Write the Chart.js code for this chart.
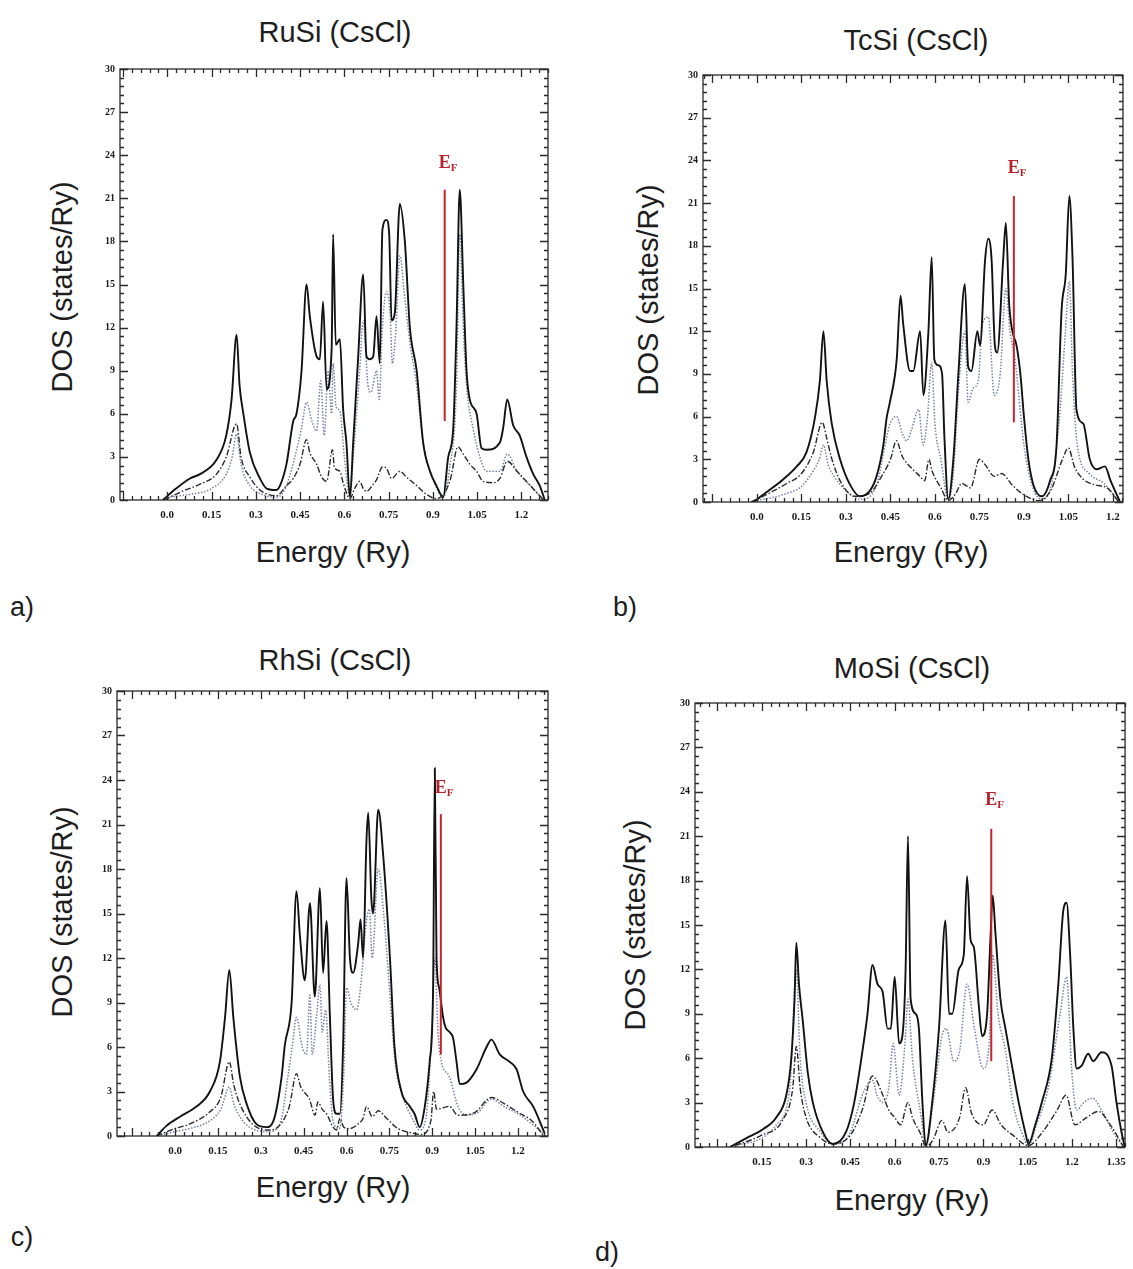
<!DOCTYPE html>
<html>
<head>
<meta charset="utf-8">
<script src="https://cdn.jsdelivr.net/npm/chart.js@4.4.0/dist/chart.umd.min.js"></script>
<style>
body{margin:0;background:#fff;width:1133px;height:1269px;position:relative;overflow:hidden;font-family:"Liberation Sans",Arial,sans-serif;color:#1e1e1e}
.lbl{position:absolute;font-size:29px;white-space:nowrap;transform:translate(-50%,-50%)}
.ylbl{transform:translate(-50%,-50%) rotate(-90deg)}
.letter{position:absolute;font-size:27px;transform:translate(-50%,-50%)}
canvas{position:absolute}
</style>
</head>
<body>
<script>
// tick labels
const xTicks   = [0,0.15,0.3,0.45,0.6,0.75,0.9,1.05,1.2];
const xTicksMo = [0.15,0.3,0.45,0.6,0.75,0.9,1.05,1.2,1.35];
const yTicks   = [0,3,6,9,12,15,18,21,24,27,30];

// a) RuSi : [energy, DOS]
const ruTotal = [[-0.015,0],[0.03,0.8],[0.077,1.5],[0.111,1.8],[0.167,2.8],[0.2,4.5],[0.218,7],[0.235,11.5],[0.245,8],[0.258,6],[0.28,3.3],[0.314,1.5],[0.337,0.8],[0.37,0.7],[0.382,1],[0.404,2.5],[0.427,5.5],[0.438,6],[0.455,9],[0.472,15],[0.483,12.8],[0.506,10],[0.517,9.8],[0.528,13.8],[0.54,7.7],[0.557,10.5],[0.562,18.5],[0.571,10.8],[0.585,11.2],[0.596,6.3],[0.607,4],[0.619,0.2],[0.63,4],[0.647,10],[0.664,15.7],[0.675,10],[0.686,9.8],[0.698,10],[0.709,12.8],[0.72,9.5],[0.729,18.8],[0.743,19.5],[0.752,18.5],[0.76,12.5],[0.771,13],[0.788,20.6],[0.805,18],[0.822,12],[0.845,9],[0.867,4],[0.89,2],[0.912,1],[0.935,0.2],[0.952,3],[0.969,5],[0.98,12],[0.991,21.6],[1.003,15],[1.014,9],[1.025,7],[1.048,6],[1.065,3.6],[1.082,3.5],[1.127,4],[1.138,5],[1.152,7],[1.172,5.2],[1.194,4.5],[1.217,3],[1.24,1.8],[1.262,1],[1.279,0]];
const ruD = [[0,0.2],[0.08,0.4],[0.15,0.8],[0.2,1.8],[0.22,3],[0.235,4.6],[0.25,2.5],[0.28,1],[0.32,0.4],[0.37,0.2],[0.4,0.8],[0.43,2.8],[0.455,5],[0.472,6.8],[0.49,5.5],[0.506,4.8],[0.52,8.3],[0.532,4.5],[0.545,9],[0.557,6],[0.562,9.5],[0.572,6.5],[0.585,6.2],[0.6,3],[0.619,0.2],[0.63,3],[0.652,9],[0.664,12.5],[0.68,8],[0.69,7.5],[0.709,9],[0.718,7],[0.729,12],[0.743,14.5],[0.755,13],[0.763,9.5],[0.775,12],[0.788,17],[0.805,14],[0.822,11],[0.845,8],[0.867,4],[0.9,1.5],[0.935,0.2],[0.955,2],[0.98,8],[0.991,18.5],[1.003,12],[1.014,8],[1.036,5],[1.059,3],[1.082,2],[1.127,2],[1.152,3.2],[1.185,2],[1.23,1],[1.275,0]];
const ruOther = [[-0.01,0],[0.05,0.6],[0.111,1.1],[0.167,1.8],[0.2,3],[0.235,5.3],[0.25,3],[0.28,1.6],[0.314,0.7],[0.37,0.3],[0.404,1],[0.427,1.5],[0.45,2.5],[0.472,4.2],[0.483,3.3],[0.506,2.5],[0.523,1.6],[0.54,1.3],[0.56,3.5],[0.566,2.3],[0.585,2],[0.596,1.2],[0.619,0.1],[0.635,0.8],[0.652,1.3],[0.664,0.8],[0.675,0.6],[0.698,1.1],[0.709,1.4],[0.729,2.3],[0.743,2.2],[0.76,1.5],[0.788,2],[0.81,1.6],[0.845,1],[0.878,0.4],[0.912,0.1],[0.94,0.5],[0.96,1.5],[0.985,3.7],[1.003,3.2],[1.025,2.5],[1.048,2],[1.07,1.3],[1.104,1.2],[1.127,1.5],[1.152,2.7],[1.185,2],[1.23,1],[1.275,0]];
const ruEF = [0.94, 5.5, 21.6];

// b) TcSi
const tcTotal = [[-0.012,0],[0.033,0.7],[0.089,1.6],[0.134,2.5],[0.167,3.5],[0.196,6],[0.212,8.5],[0.224,12],[0.235,8.5],[0.252,5.5],[0.28,3],[0.314,1.2],[0.347,0.4],[0.381,0.8],[0.403,1.8],[0.426,4],[0.437,5.9],[0.448,7],[0.471,10],[0.484,14.5],[0.493,12.5],[0.516,9.2],[0.527,9.2],[0.55,12],[0.561,7.5],[0.578,12],[0.589,17.2],[0.598,10],[0.612,9.6],[0.624,9],[0.632,4.5],[0.645,0.2],[0.662,3],[0.679,9],[0.701,15.3],[0.712,9.5],[0.723,9.2],[0.743,12],[0.752,11],[0.769,17],[0.78,18.5],[0.791,17],[0.802,11],[0.81,10.5],[0.83,17],[0.839,19.6],[0.85,14],[0.861,12],[0.875,11],[0.888,9],[0.9,6],[0.915,3],[0.932,1.2],[0.96,0.4],[0.988,1.5],[1.01,4],[1.027,13.5],[1.041,16],[1.053,21.5],[1.064,17],[1.077,6.5],[1.1,5.5],[1.122,3],[1.145,2.3],[1.173,2.5],[1.192,1.5],[1.224,0]];
const tcD = [[-0.01,0.1],[0.05,0.3],[0.1,0.6],[0.15,1.1],[0.19,2.2],[0.21,3],[0.224,4],[0.24,2.6],[0.26,1.8],[0.3,0.8],[0.35,0.2],[0.4,1],[0.437,4.5],[0.448,5.5],[0.471,6],[0.49,4.8],[0.505,4.3],[0.52,5],[0.545,6.5],[0.56,4],[0.575,6],[0.589,9.8],[0.6,5.5],[0.62,3],[0.645,0.1],[0.662,2],[0.68,8],[0.701,12],[0.712,7],[0.729,8],[0.746,8.5],[0.76,12.5],[0.78,13],[0.8,7.5],[0.82,9],[0.839,15],[0.853,12],[0.87,10],[0.9,4],[0.93,1],[0.96,0.2],[0.99,1],[1.02,6],[1.04,12],[1.053,15.5],[1.064,9],[1.08,4],[1.12,2],[1.17,1.3],[1.22,0]];
const tcOther = [[-0.02,0],[0.03,0.5],[0.1,1.3],[0.15,2],[0.19,3.5],[0.22,5.6],[0.235,4.5],[0.25,3.2],[0.28,1.5],[0.33,0.4],[0.38,0.6],[0.42,1.8],[0.45,3],[0.47,4.3],[0.49,3.2],[0.52,2.4],[0.55,1.8],[0.565,1.5],[0.58,3],[0.59,2.2],[0.62,1],[0.645,0.1],[0.67,0.6],[0.69,1.3],[0.72,1],[0.75,3],[0.77,2.6],[0.8,1.8],[0.825,2],[0.86,1.2],[0.9,0.5],[0.95,0.1],[0.99,0.8],[1.03,3],[1.05,3.8],[1.07,2.5],[1.1,1.6],[1.14,1.2],[1.18,1],[1.22,0]];
const tcEF = [0.866, 5.6, 21.5];

// c) RhSi
const rhTotal = [[-0.064,0],[-0.029,0.7],[0.017,1.3],[0.076,2],[0.122,3],[0.157,5],[0.175,8],[0.19,11.2],[0.204,8],[0.227,4],[0.25,2.2],[0.285,0.8],[0.32,0.6],[0.344,1],[0.373,4],[0.384,6.1],[0.408,9],[0.425,16.5],[0.437,13.5],[0.454,10.5],[0.472,15.7],[0.489,9.4],[0.507,16.7],[0.518,11],[0.53,14.5],[0.542,8],[0.553,2.5],[0.565,1.5],[0.577,1.5],[0.588,6],[0.6,17.4],[0.612,12],[0.623,11],[0.641,13],[0.649,14.6],[0.658,12],[0.67,20],[0.676,21.8],[0.687,16],[0.693,15],[0.711,22],[0.728,19],[0.752,12],[0.768,6],[0.792,3],[0.821,2],[0.838,1.5],[0.856,0.6],[0.874,2],[0.891,5],[0.903,10],[0.909,24.8],[0.915,12],[0.924,10],[0.938,8],[0.947,7.3],[0.961,7],[0.973,6.6],[0.985,5],[0.996,3.5],[1.02,3.6],[1.055,4.5],[1.09,6],[1.107,6.5],[1.136,5.5],[1.171,5],[1.195,4.5],[1.218,3],[1.253,2],[1.293,0.2]];
const rhD = [[-0.06,0],[0,0.3],[0.05,0.5],[0.12,1],[0.16,1.8],[0.19,3.3],[0.205,2.2],[0.23,1.2],[0.27,0.5],[0.33,0.3],[0.37,1],[0.395,4],[0.41,6],[0.425,8],[0.445,6],[0.46,5.5],[0.472,9.5],[0.48,5.5],[0.495,8],[0.507,10.2],[0.515,7],[0.527,8.5],[0.54,4],[0.553,1],[0.575,0.5],[0.59,4],[0.6,10],[0.615,9],[0.635,8.5],[0.649,10],[0.67,14.5],[0.68,15.3],[0.69,12],[0.711,18],[0.73,15],[0.75,10],[0.77,5],[0.8,2.5],[0.83,1.2],[0.856,0.4],[0.88,1.5],[0.9,8],[0.909,12],[0.92,7],[0.932,5],[0.96,4],[0.99,2],[1.02,1.4],[1.06,1.6],[1.107,2.5],[1.15,2],[1.2,1.5],[1.25,0.8],[1.29,0.1]];
const rhOther = [[-0.065,0],[0,0.5],[0.05,0.8],[0.12,1.6],[0.16,2.6],[0.19,5],[0.205,3.5],[0.22,2.5],[0.25,1.3],[0.285,0.6],[0.33,0.4],[0.37,0.8],[0.4,2],[0.425,4.2],[0.44,3.3],[0.47,2.5],[0.49,1.4],[0.5,2.3],[0.515,1.8],[0.53,1.5],[0.553,0.6],[0.565,0.4],[0.577,1.2],[0.59,0.6],[0.61,0.5],[0.64,0.8],[0.658,1.2],[0.67,2],[0.69,1.3],[0.711,1.7],[0.74,1.2],[0.78,0.5],[0.83,0.2],[0.86,0.1],[0.895,1],[0.905,3],[0.915,1.8],[0.96,2],[0.99,1.4],[1.05,1.6],[1.107,2.6],[1.15,2.2],[1.2,1.6],[1.25,1],[1.29,0]];
const rhEF = [0.93, 5.5, 21.7];

// d) MoSi
const moTotal = [[0.042,0],[0.098,0.6],[0.154,1.2],[0.199,2],[0.233,3.5],[0.25,6],[0.261,10],[0.267,13.8],[0.276,11],[0.289,8.5],[0.306,5],[0.323,3],[0.357,1],[0.39,0.2],[0.435,1],[0.463,3],[0.491,6.5],[0.508,9],[0.525,12.3],[0.542,11],[0.559,10.5],[0.576,8],[0.587,8],[0.6,11.5],[0.615,7],[0.626,7.5],[0.637,12],[0.645,21],[0.654,10],[0.671,9],[0.682,8],[0.694,3],[0.705,0.1],[0.727,3],[0.75,8],[0.772,15.3],[0.784,9],[0.795,9],[0.817,12],[0.834,13],[0.845,18.3],[0.857,14],[0.868,13.5],[0.885,9.5],[0.896,7.5],[0.913,9],[0.924,14],[0.932,17],[0.941,14.5],[0.958,10],[0.975,8],[0.997,5.5],[1.02,3],[1.042,1],[1.053,0.2],[1.076,1.5],[1.098,3],[1.132,6],[1.154,11],[1.171,16],[1.182,16.5],[1.194,13],[1.205,8],[1.216,5.3],[1.233,5.5],[1.255,6.3],[1.272,5.8],[1.3,6.4],[1.334,5.5],[1.351,3],[1.368,1],[1.379,0]];
const moD = [[0.06,0.1],[0.15,0.6],[0.2,1.5],[0.245,4],[0.267,12],[0.28,6],[0.3,3],[0.35,1],[0.39,0.2],[0.45,1],[0.49,3.5],[0.525,4.5],[0.54,3.5],[0.56,3],[0.58,4],[0.595,7],[0.615,3.5],[0.635,7],[0.645,10],[0.66,6],[0.69,2],[0.705,0],[0.73,3],[0.76,7.5],[0.775,8],[0.8,5.8],[0.82,6.5],[0.845,11],[0.87,8],[0.9,5.3],[0.92,7],[0.932,13],[0.95,9],[0.975,6.5],[1.0,3],[1.03,1],[1.053,0.1],[1.08,1.5],[1.12,4],[1.16,9],[1.182,11.5],[1.2,5],[1.216,2.5],[1.24,3],[1.27,3.3],[1.3,2.5],[1.34,1],[1.375,0]];
const moOther = [[0.06,0.1],[0.15,0.8],[0.22,1.8],[0.255,4],[0.267,6.8],[0.28,4],[0.3,2],[0.35,0.6],[0.39,0.2],[0.45,0.8],[0.49,2.5],[0.525,4.8],[0.56,3.5],[0.58,2.5],[0.6,2],[0.62,1.5],[0.645,3],[0.66,2],[0.69,0.8],[0.705,0],[0.73,0.5],[0.76,1.8],[0.78,1],[0.82,2],[0.84,4],[0.86,2.3],[0.9,1.5],[0.93,2.5],[0.96,1.5],[1.0,0.8],[1.053,0.1],[1.1,1],[1.15,2.5],[1.18,3.5],[1.21,1.5],[1.25,2],[1.29,2.4],[1.33,1.5],[1.375,0]];
const moEF = [0.927, 5.8, 21.5];

const panels = [
  {title:'RuSi (CsCl)', letter:'a)', total:ruTotal, d:ruD, other:ruOther, ef:ruEF, xMin:-0.16, xMax:1.29, ticks:xTicks,
   frame:[120,68,548,500], titlePos:[335,32], xlPos:[333,552], ylPos:[62,287], letterPos:[22,607]},
  {title:'TcSi (CsCl)', letter:'b)', total:tcTotal, d:tcD, other:tcOther, ef:tcEF, xMin:-0.182, xMax:1.234, ticks:xTicks,
   frame:[703,74,1123,502], titlePos:[916,40], xlPos:[911,552], ylPos:[648,290], letterPos:[625,607]},
  {title:'RhSi (CsCl)', letter:'c)', total:rhTotal, d:rhD, other:rhOther, ef:rhEF, xMin:-0.203, xMax:1.305, ticks:xTicks,
   frame:[117,690,548,1136], titlePos:[335,660], xlPos:[333,1187], ylPos:[62,912], letterPos:[22,1237]},
  {title:'MoSi (CsCl)', letter:'d)', total:moTotal, d:moD, other:moOther, ef:moEF, xMin:-0.076, xMax:1.38, ticks:xTicksMo,
   frame:[695,702,1127,1147], titlePos:[912,668], xlPos:[912,1200], ylPos:[635,925], letterPos:[607,1252]}
];

const toXY = arr => arr.map(p => ({x:p[0], y:p[1]}));
const serif = "'Liberation Serif','DejaVu Serif',serif";

// frame with inward major/minor ticks on all four sides + E_F label
const frameTicks = {
  id:'frameTicks',
  afterDatasetsDraw(chart){
    const {ctx, chartArea:a, scales:{x, y}} = chart;
    ctx.save();
    ctx.strokeStyle = '#2a2a2a';
    ctx.lineWidth = 1.3;
    ctx.strokeRect(a.left, a.top, a.right - a.left, a.bottom - a.top);
    ctx.beginPath();
    for(let i = Math.ceil(x.min/0.03 - 1e-6); i*0.03 <= x.max + 1e-9; i++){
      const px = Math.round(x.getPixelForValue(i*0.03)) + 0.5;
      const len = i % 5 === 0 ? 8 : 4;
      ctx.moveTo(px, a.bottom); ctx.lineTo(px, a.bottom - len);
      ctx.moveTo(px, a.top); ctx.lineTo(px, a.top + len);
    }
    for(let i = 0; i <= 50; i++){
      const py = Math.round(y.getPixelForValue(i*0.6)) + 0.5;
      const len = i % 5 === 0 ? 8 : 4;
      ctx.moveTo(a.left, py); ctx.lineTo(a.left + len, py);
      ctx.moveTo(a.right, py); ctx.lineTo(a.right - len, py);
    }
    ctx.stroke();
    const ef = chart.options.plugins.frameTicks.ef;
    const ex = x.getPixelForValue(ef[0]) - 6;
    const ey = y.getPixelForValue(23.1);
    ctx.fillStyle = '#b8232b';
    ctx.font = 'bold 18px ' + serif;
    ctx.textBaseline = 'alphabetic';
    ctx.fillText('E', ex, ey);
    const w = ctx.measureText('E').width;
    ctx.font = 'bold 11px ' + serif;
    ctx.fillText('F', ex + w, ey + 3);
    ctx.restore();
  }
};

function addText(cls, text, pos){
  const el = document.createElement('div');
  el.className = cls;
  el.textContent = text;
  el.style.left = pos[0] + 'px';
  el.style.top = pos[1] + 'px';
  document.body.appendChild(el);
}

const padTop = 10, padRight = 8, yW = 35, xH = 26;

panels.forEach(p => {
  const [l, t, r, b] = p.frame;
  const cv = document.createElement('canvas');
  cv.width = yW + (r - l) + padRight;
  cv.height = padTop + (b - t) + xH;
  cv.style.left = (l - yW) + 'px';
  cv.style.top = (t - padTop) + 'px';
  cv.style.width = cv.width + 'px';
  cv.style.height = cv.height + 'px';
  document.body.appendChild(cv);

  addText('lbl', p.title, p.titlePos);
  addText('lbl', 'Energy (Ry)', p.xlPos);
  addText('lbl ylbl', 'DOS (states/Ry)', p.ylPos);
  addText('letter', p.letter, p.letterPos);

  new Chart(cv.getContext('2d'), {
    type:'line',
    data:{
      datasets:[
        {label:'EF', data:toXY([[p.ef[0], p.ef[1]], [p.ef[0], p.ef[2]]]), borderColor:'#c0262e', borderWidth:2, cubicInterpolationMode:'default'},
        {label:'total', data:toXY(p.total), borderColor:'#121212', borderWidth:1.9},
        {label:'other', data:toXY(p.other), borderColor:'#2a2a2a', borderWidth:1.4, borderDash:[6,2,1.5,2]},
        {label:'d', data:toXY(p.d), borderColor:'#7482a6', borderWidth:1.5, borderDash:[1.5,1.6]}
      ]
    },
    options:{
      responsive:false,
      animation:false,
      devicePixelRatio:1,
      layout:{padding:{left:0, top:padTop, right:padRight, bottom:0}},
      elements:{point:{radius:0}, line:{cubicInterpolationMode:'monotone', fill:false}},
      plugins:{legend:{display:false}, tooltip:{enabled:false}, frameTicks:{ef:p.ef}},
      scales:{
        x:{
          type:'linear', min:p.xMin, max:p.xMax,
          grid:{display:false, drawTicks:false}, border:{display:false},
          afterBuildTicks: s => { s.ticks = p.ticks.map(v => ({value:v})); },
          afterFit: s => { s.height = xH; },
          ticks:{padding:9, maxRotation:0, autoSkip:false, color:'#1a1a1a', font:{family:serif, size:11, weight:'bold'},
                 callback: v => v === 0 ? '0.0' : String(+v.toFixed(2))}
        },
        y:{
          type:'linear', min:0, max:30,
          grid:{display:false, drawTicks:false}, border:{display:false},
          afterBuildTicks: s => { s.ticks = yTicks.map(v => ({value:v})); },
          afterFit: s => { s.width = yW; },
          ticks:{padding:5, color:'#1a1a1a', font:{family:serif, size:10, weight:'bold'}}
        }
      }
    },
    plugins:[frameTicks]
  });
});
</script>
</body>
</html>
